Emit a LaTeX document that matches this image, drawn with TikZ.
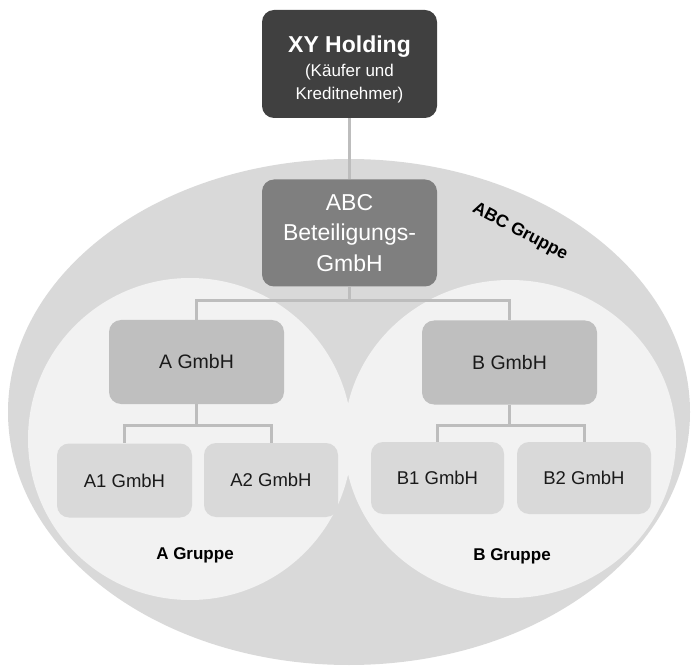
\documentclass[tikz,border=0pt]{standalone}
\usepackage{fontspec}
\setmainfont{Liberation Sans}
\definecolor{cBig}{HTML}{D9D9D9}
\definecolor{cSub}{HTML}{F2F2F2}
\definecolor{cTop}{HTML}{404040}
\definecolor{cMid}{HTML}{7F7F7F}
\definecolor{cLvl}{HTML}{BFBFBF}
\definecolor{cLeaf}{HTML}{D9D9D9}
\definecolor{cLine}{HTML}{BDBDBD}
\definecolor{cText}{HTML}{1A1A1A}
\tikzset{
  box/.style={rectangle, rounded corners=12pt, inner sep=0pt, align=center},
  topbox/.style={box, fill=cTop, minimum width=175pt, minimum height=108pt},
  toptext/.style={align=center, text=white, inner sep=0pt, font=\fontsize{17}{23}\selectfont},
  midbox/.style={box, fill=cMid, text=white, minimum width=175pt, minimum height=107pt,
    font=\fontsize{23}{30.5}\selectfont},
  lvlbox/.style={box, fill=cLvl, text=cText, minimum width=175pt, minimum height=84pt,
    font=\fontsize{19.5}{23}\selectfont},
  leafbox/.style={box, fill=cLeaf, text=cText, minimum width=134pt, minimum height=73pt,
    font=\fontsize{18.5}{22}\selectfont},
  conn/.style={draw=cLine, line width=3pt},
  grouplabel/.style={font=\bfseries\fontsize{17}{20}\selectfont, text=black, inner sep=0pt}
}
\begin{document}
\begin{tikzpicture}[x=1pt,y=-1pt]
\useasboundingbox (0,0) rectangle (691,668);

% group areas
\fill[cBig] (349,412) ellipse [x radius=341, y radius=253];
\fill[cSub] (190,439) ellipse [x radius=162, y radius=161];
\fill[cSub] (510,439) ellipse [x radius=166, y radius=159];

% companies
\node[topbox] (xy) at (349.5,64) {};
\node[toptext] (xytext) at (349.5,69)
  {\textbf{\fontsize{23}{26}\selectfont XY Holding}\\[1pt](Käufer und\\Kreditnehmer)};
\node[midbox] (abc) at (349.5,233) {ABC\\Beteiligungs-\\GmbH};
\node[lvlbox] (ag) at (196.5,362) {A GmbH};
\node[lvlbox] (bg) at (509.5,362.5) {B GmbH};
\node[leafbox, minimum width=135pt, minimum height=74pt] (a1) at (124.5,480.5) {A1 GmbH};
\node[leafbox, minimum height=74pt] (a2) at (271,480) {A2 GmbH};
\node[leafbox, minimum width=133pt, minimum height=72pt] (b1) at (437.5,478) {B1 GmbH};
\node[leafbox, minimum height=72pt] (b2) at (584,478) {B2 GmbH};

% group names
\node[grouplabel] (ga) at (195,555) {A Gruppe};
\node[grouplabel] (gb) at (512,556) {B Gruppe};
\node[grouplabel, font=\bfseries\fontsize{17.5}{20}\selectfont, rotate=-28] (gabc) at (520,232) {ABC Gruppe};

% junction points of the tree
\coordinate (sAbc) at (349.5,301);
\coordinate (sA) at (196.5,425);
\coordinate (sB) at (509.5,425);

% connectors
\draw[conn] (xy.south) -- (abc.north);
\draw[conn] (abc.south) -- (sAbc);
\draw[conn] (sAbc) -| (ag.north);
\draw[conn] (sAbc) -| (bg.north);
\draw[conn] (ag.south) -- (sA);
\draw[conn] (sA) -| (a1.north);
\draw[conn] (sA) -| (a2.north);
\draw[conn] (bg.south) -- (sB);
\draw[conn] (sB) -| (b1.north);
\draw[conn] (sB) -| (b2.north);
\end{tikzpicture}
\end{document}
